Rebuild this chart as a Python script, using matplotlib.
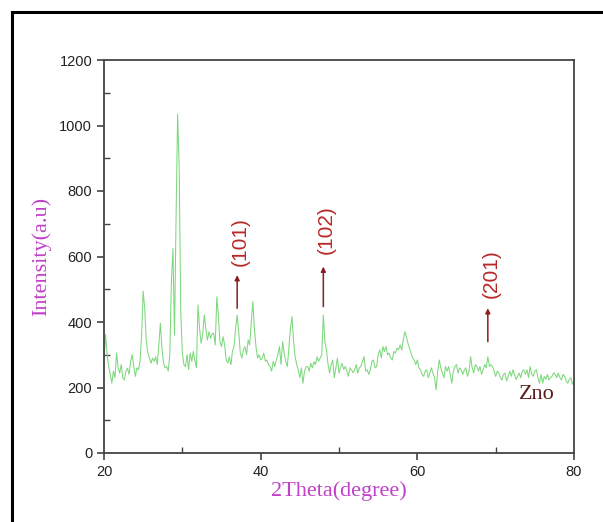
import matplotlib
matplotlib.use("Agg")
import matplotlib.pyplot as plt
from matplotlib.lines import Line2D
from matplotlib.ticker import MultipleLocator
import numpy as np

# 2-theta grid start/step (degrees) and hand-read intensities
theta_start = 20.0
theta_step = 0.2
intensity = [
    284, 362, 300, 264, 240, 213, 250, 230, 305, 260,
    244, 270, 230, 223, 250, 259, 240, 280, 300, 265,
    234, 260, 254, 280, 360, 494, 440, 340, 305, 290,
    274, 290, 280, 294, 270, 330, 396, 320, 274, 260,
    264, 250, 300, 520, 624, 360, 720, 1035, 870, 430,
    305, 270, 264, 300, 255, 305, 280, 310, 284, 260,
    452, 380, 335, 360, 421, 380, 345, 370, 350, 365,
    365, 330, 477, 420, 340, 325, 355, 330, 284, 275,
    294, 270, 310, 325, 380, 421, 370, 305, 290, 315,
    325, 300, 345, 330, 400, 462, 380, 325, 290, 300,
    284, 290, 305, 280, 284, 270, 264, 250, 280, 264,
    284, 300, 325, 270, 340, 305, 280, 264, 320, 380,
    416, 340, 294, 270, 254, 230, 260, 213, 250, 264,
    264, 250, 274, 260, 279, 270, 294, 280, 290, 300,
    421, 340, 315, 270, 244, 270, 284, 230, 260, 290,
    244, 260, 274, 255, 264, 250, 234, 260, 254, 245,
    254, 270, 244, 260, 264, 280, 294, 250, 254, 240,
    254, 280, 284, 260, 264, 300, 315, 290, 325, 310,
    325, 300, 305, 290, 284, 310, 305, 320, 315, 330,
    315, 345, 370, 355, 335, 320, 305, 290, 284, 270,
    284, 260, 254, 240, 234, 250, 254, 230, 244, 260,
    244, 230, 193, 250, 284, 260, 244, 230, 264, 250,
    264, 240, 213, 250, 264, 270, 244, 260, 254, 240,
    254, 260, 234, 250, 294, 260, 244, 270, 264, 250,
    264, 240, 254, 270, 260, 294, 264, 270, 264, 250,
    234, 250, 244, 230, 223, 240, 244, 220, 234, 250,
    234, 254, 240, 225, 234, 244, 230, 250, 254, 240,
    254, 230, 264, 240, 234, 250, 254, 230, 213, 240,
    213, 234, 225, 240, 223, 230, 234, 245, 240, 230,
    244, 230, 223, 240, 234, 220, 213, 225, 230, 210,
    223,
]
theta = theta_start + theta_step * np.arange(len(intensity))

# peak annotations
peak_labels = ["(101)", "(102)", "(201)"]
peak_x = [37.0, 48.0, 69.0]
arrow_tail = [442, 447, 340]
arrow_head = [543, 569, 442]
label_center = [646, 682, 548]

x_ticks = [20, 40, 60, 80]
y_ticks = [0, 200, 400, 600, 800, 1000, 1200]

fig = plt.figure(figsize=(6.03, 5.22), dpi=100)
ax = fig.add_axes([104/603, 1 - 453/522, (574-104)/603, (453-60)/522])

ax.plot(theta, intensity, color="#7cd87c", lw=0.75)

ax.set_xlim(20, 80)
ax.set_ylim(0, 1200)
ax.set_xticks(x_ticks)
ax.set_yticks(y_ticks)
ax.xaxis.set_minor_locator(MultipleLocator(10))
ax.yaxis.set_minor_locator(MultipleLocator(100))

axc = "#444444"
for s in ax.spines.values():
    s.set_color(axc)
    s.set_linewidth(1.3)
ax.tick_params(which="major", direction="out", length=5, width=1.2, color=axc,
               labelsize=10.5, labelcolor="#222222")
ax.tick_params(which="minor", direction="in", length=4, width=1.0, color=axc)
for lab in ax.get_xticklabels() + ax.get_yticklabels():
    lab.set_fontfamily("Liberation Sans")

ax.set_xlabel("2Theta(degree)", family="Liberation Serif", fontsize=16,
              color="#c040c8", labelpad=2)
ax.set_ylabel("Intensity(a.u)", family="Liberation Serif", fontsize=16,
              color="#c040c8", labelpad=6)

for lab, x, t, h, c in zip(peak_labels, peak_x, arrow_tail, arrow_head, label_center):
    ax.annotate("", xy=(x, h), xytext=(x, t),
                arrowprops=dict(arrowstyle="-|>", color="#8b1c1c", lw=1.1,
                                mutation_scale=7, shrinkA=0, shrinkB=0))
    ax.text(x + 0.4, c, lab, rotation=90, ha="center", va="center",
            fontsize=15, color="#b82828", family="Liberation Sans")

ax.text(75.3, 180, "Zno", ha="center", va="center", fontsize=16,
        color="#5a1a1a", family="Liberation Serif")

# outer frame (left and top)
fig.add_artist(Line2D([12/603, 12/603], [0, 1 - 11.5/522], color="black",
                      lw=2.2, transform=fig.transFigure))
fig.add_artist(Line2D([12/603, 1], [1 - 11.5/522, 1 - 11.5/522], color="black",
                      lw=2.2, transform=fig.transFigure))

fig.savefig("out.png", dpi=100)
